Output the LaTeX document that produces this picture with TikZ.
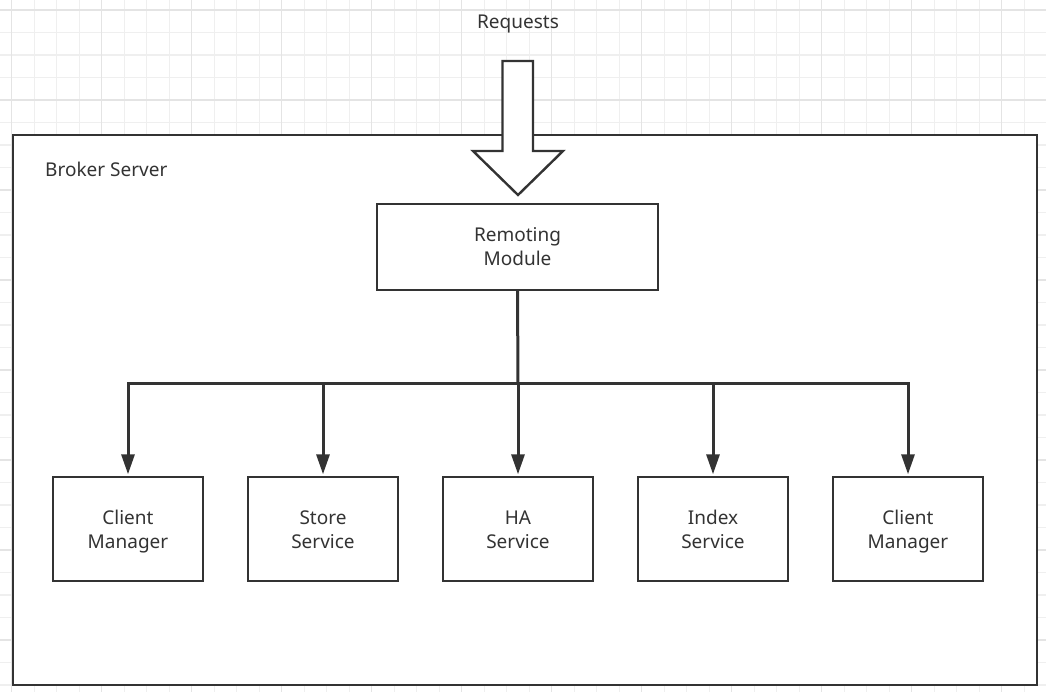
\documentclass[tikz,border=0pt]{standalone}
\usepackage{fontspec}
\setmainfont{Noto Sans}
\usetikzlibrary{arrows.meta,calc}
\definecolor{ink}{HTML}{333333}
\definecolor{gridminor}{HTML}{EFEFEF}
\definecolor{gridmajor}{HTML}{E4E4E4}
\newcommand{\twolines}[2]{\rule{0pt}{20pt}#1\\#2\rule[-6pt]{0pt}{6pt}}
\tikzset{
  box/.style={draw=ink,line width=2.4pt,fill=white,align=center,text=ink,
    font=\fontsize{19}{24}\selectfont,inner sep=0pt},
  leaf/.style={box,minimum width=150pt,minimum height=104pt},
  conn/.style={draw=ink,line width=3pt},
  tip/.style={conn,-{Triangle[length=20pt,width=13pt]},shorten >=1.5pt},
  lbl/.style={text=ink,font=\fontsize{19}{24}\selectfont,inner sep=0pt}
}
\begin{document}
\begin{tikzpicture}[x=1pt,y=-1pt]
\useasboundingbox (0,0) rectangle (1046,692);
\fill[white] (0,0) rectangle (1046,692);
% grid
\foreach \k in {0,...,46} {
  \pgfmathsetmacro{\gx}{11.7+22.5*\k}
  \draw[gridminor,line width=1.2pt] (\gx,0) -- (\gx,692);
}
\foreach \k in {0,...,30} {
  \pgfmathsetmacro{\gy}{10+22.5*\k}
  \draw[gridminor,line width=1.2pt] (0,\gy) -- (1046,\gy);
}
\foreach \k in {0,...,11} {
  \pgfmathsetmacro{\gx}{11.7+90*\k}
  \draw[gridmajor,line width=1.2pt] (\gx,0) -- (\gx,692);
}
\foreach \k in {0,...,7} {
  \pgfmathsetmacro{\gy}{10+90*\k}
  \draw[gridmajor,line width=1.2pt] (0,\gy) -- (1046,\gy);
}
% outer broker box
\node[draw=ink,line width=2.6pt,fill=white,minimum width=1024pt,minimum height=550pt,inner sep=0pt] (broker) at (525,410) {};
\node[lbl,anchor=base west] (brokerlbl) at (45,177) {Broker Server};
% requests
\node[lbl,anchor=base] (req) at (518,29) {Requests};
% big arrow
\draw[ink,line width=2.4pt,fill=white,line join=miter]
  (502.5,61) -- (533,61) -- (533,151) -- (563,151) -- (518,195) -- (473,151) -- (502.5,151) -- cycle;
% remoting
\node[box,minimum width=281pt,minimum height=86pt] (rm) at (517.5,247) {\twolines{Remoting}{Module}};
% leaves
\node[leaf] (b1) at (128,529) {\twolines{Client}{Manager}};
\node[leaf] (b2) at (323,529) {\twolines{Store}{Service}};
\node[leaf] (b3) at (518,529) {\twolines{HA}{Service}};
\node[leaf] (b4) at (713,529) {\twolines{Index}{Service}};
\node[leaf] (b5) at (908,529) {\twolines{Client}{Manager}};
% connectors
\coordinate (j) at (518,383.5);
\draw[conn] (rm.south) -- (j);
\foreach \b in {b1,b2,b3,b4,b5} {
  \draw[tip] (j) -| (\b.north);
}
\end{tikzpicture}
\end{document}
